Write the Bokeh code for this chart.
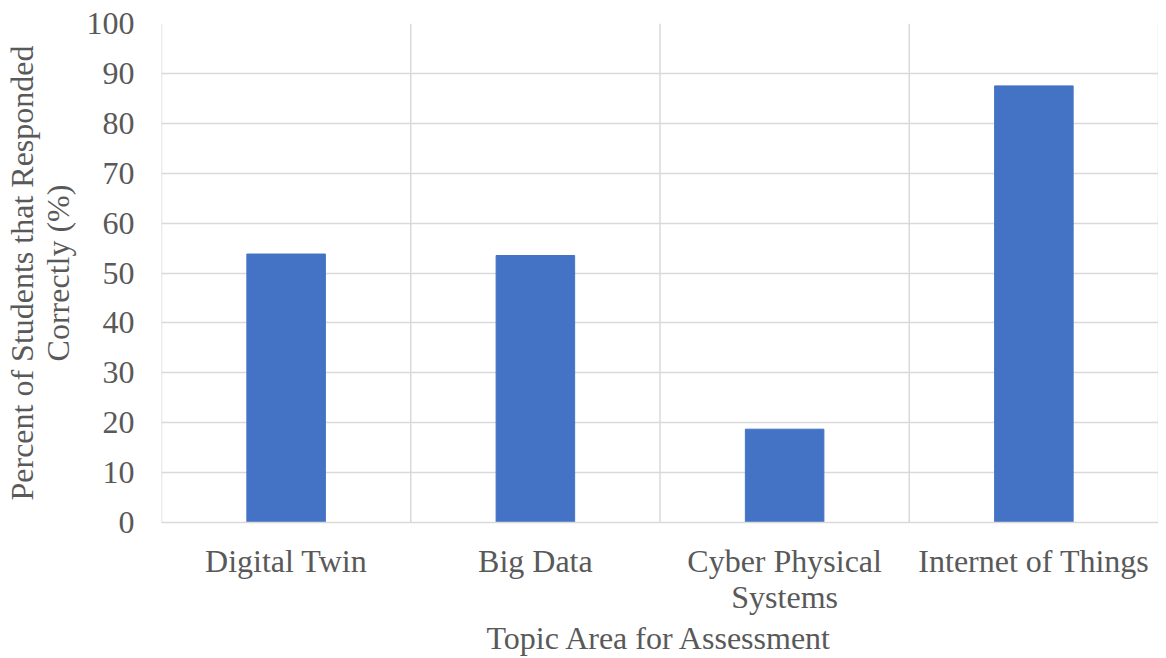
from bokeh.plotting import figure
from bokeh.models import Span, FactorRange, Range1d, SingleIntervalTicker
from bokeh.embed import file_html
from bokeh.resources import INLINE

categories = ["Digital Twin", "Big Data", "Cyber Physical\nSystems", "Internet of Things"]
values = [53.8, 53.5, 18.7, 87.5]

FONT = "Liberation Serif"
TXT = "#595959"
GRID = "#d9d9d9"

p = figure(x_range=FactorRange(*categories, range_padding=0), y_range=Range1d(0, 100),
           frame_width=997, frame_height=499, output_backend="svg",
           toolbar_location=None, min_border_left=60, min_border_right=0,
           min_border_top=23, min_border_bottom=60)
p.outline_line_color = None
p.vbar(x=categories, top=values, width=0.315, color="#4472C4")

p.yaxis.ticker = SingleIntervalTicker(interval=10)
p.ygrid.grid_line_color = GRID
p.ygrid.grid_line_width = 1.5
p.xgrid.grid_line_color = None
for i in range(len(categories) + 1):
    p.add_layout(Span(location=i, dimension="height", line_color=GRID, line_width=1.5))

for ax in (p.xaxis, p.yaxis):
    ax.major_tick_line_color = None
    ax.minor_tick_line_color = None
    ax.major_label_text_font = FONT
    ax.major_label_text_font_size = "32px"
    ax.major_label_text_color = TXT
    ax.major_label_text_line_height = 1.0
    ax.axis_label_text_font = FONT
    ax.axis_label_text_font_size = "32px"
    ax.axis_label_text_color = TXT
    ax.axis_label_text_font_style = "normal"
    ax.axis_label_text_line_height = 1.0
p.yaxis.axis_line_color = None
p.xaxis.axis_line_color = GRID
p.xaxis.axis_line_width = 1.5
p.yaxis.major_label_standoff = 21
p.xaxis.major_label_standoff = 14
p.yaxis.axis_label = "Percent of Students that Responded\nCorrectly (%)"
p.xaxis.axis_label = "Topic Area for Assessment"
p.yaxis.axis_label_standoff = 8
p.xaxis.axis_label_standoff = 2

open("out.html", "w").write(file_html(p, INLINE))
